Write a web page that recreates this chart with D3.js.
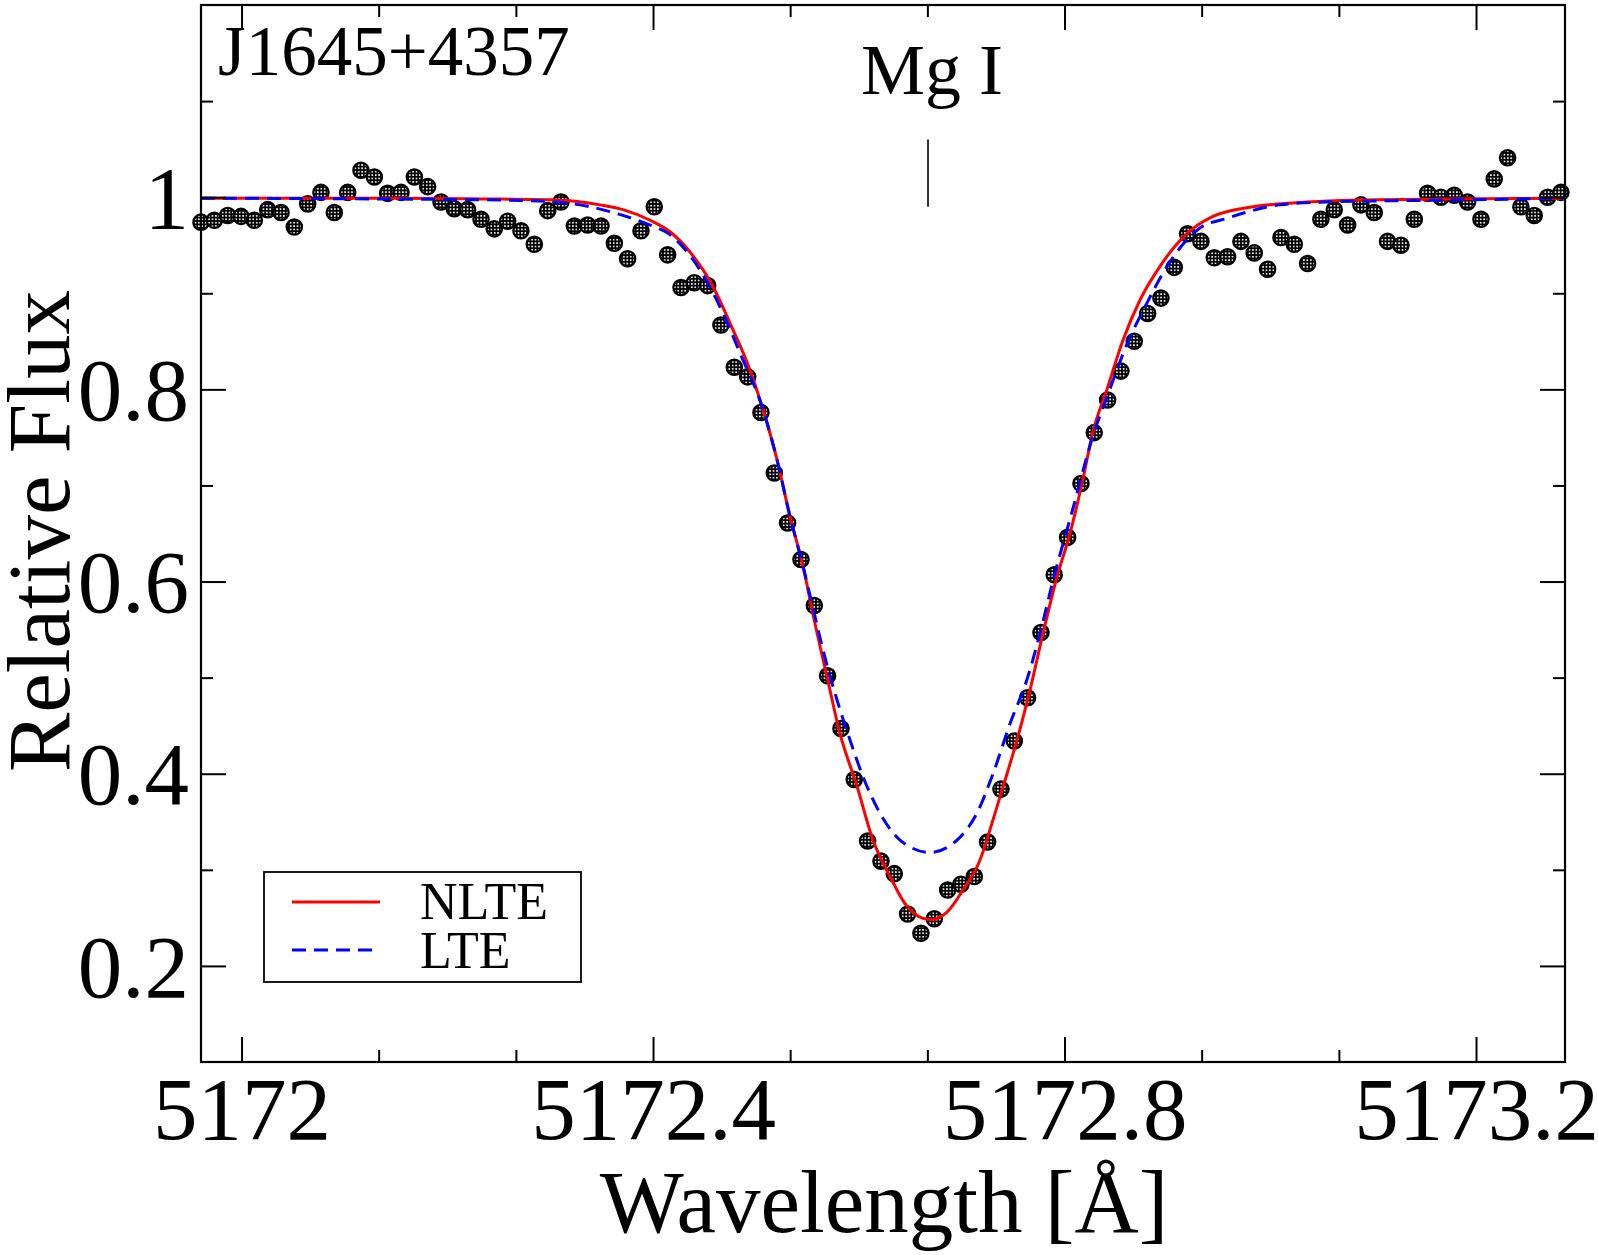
<!DOCTYPE html>
<html>
<head>
<meta charset="utf-8">
<script src="https://cdn.jsdelivr.net/npm/d3@7"></script>
<style>
  html, body { margin: 0; padding: 0; background: #fff; }
  svg { display: block; }
  text { font-family: "Liberation Serif", "Times New Roman", serif; fill: #000; }
</style>
</head>
<body>
<div id="chart"></div>
<script>
// observed spectrum (wavelength in Angstrom, relative flux)
const wavelength = [
  5171.9606, 5171.9736, 5171.9865, 5171.9995, 5172.0124, 5172.0254, 5172.0384, 5172.0513, 5172.0643, 5172.0772,
  5172.0902, 5172.1032, 5172.1161, 5172.1291, 5172.1420, 5172.1550, 5172.1680, 5172.1809, 5172.1939, 5172.2068,
  5172.2198, 5172.2328, 5172.2457, 5172.2587, 5172.2716, 5172.2846, 5172.2976, 5172.3105, 5172.3235, 5172.3364,
  5172.3494, 5172.3624, 5172.3753, 5172.3883, 5172.4012, 5172.4142, 5172.4272, 5172.4401, 5172.4531, 5172.4660,
  5172.4790, 5172.4920, 5172.5049, 5172.5179, 5172.5308, 5172.5438, 5172.5568, 5172.5697, 5172.5827, 5172.5956,
  5172.6086, 5172.6216, 5172.6345, 5172.6475, 5172.6604, 5172.6734, 5172.6864, 5172.6993, 5172.7123, 5172.7252,
  5172.7382, 5172.7512, 5172.7641, 5172.7771, 5172.7900, 5172.8030, 5172.8160, 5172.8289, 5172.8419, 5172.8548,
  5172.8678, 5172.8808, 5172.8937, 5172.9067, 5172.9196, 5172.9326, 5172.9456, 5172.9585, 5172.9715, 5172.9844,
  5172.9974, 5173.0104, 5173.0233, 5173.0363, 5173.0492, 5173.0622, 5173.0752, 5173.0881, 5173.1011, 5173.1140,
  5173.1270, 5173.1400, 5173.1529, 5173.1659, 5173.1788, 5173.1918, 5173.2048, 5173.2177, 5173.2307, 5173.2436,
  5173.2566, 5173.2696, 5173.2825
];
const flux = [
  0.974, 0.976, 0.981, 0.980, 0.976, 0.987, 0.984, 0.969, 0.993, 1.005,
  0.984, 1.005, 1.028, 1.021, 1.004, 1.005, 1.021, 1.011, 0.995, 0.988,
  0.987, 0.977, 0.967, 0.975, 0.965, 0.951, 0.986, 0.995, 0.970, 0.971,
  0.970, 0.952, 0.936, 0.965, 0.990, 0.940, 0.906, 0.911, 0.908, 0.867,
  0.823, 0.813, 0.776, 0.713, 0.661, 0.623, 0.575, 0.502, 0.447, 0.394,
  0.330, 0.309, 0.296, 0.254, 0.234, 0.249, 0.279, 0.285, 0.293, 0.329,
  0.384, 0.434, 0.479, 0.547, 0.607, 0.646, 0.702, 0.755, 0.789, 0.819,
  0.850, 0.879, 0.895, 0.927, 0.962, 0.954, 0.937, 0.938, 0.954, 0.942,
  0.925, 0.958, 0.951, 0.931, 0.977, 0.987, 0.971, 0.992, 0.984, 0.954,
  0.950, 0.977, 1.004, 1.000, 1.002, 0.995, 0.977, 1.019, 1.041, 0.990,
  0.981, 1.000, 1.005
];

// NLTE synthetic profile
const nlteWave = [
  5171.9606, 5172.1540, 5172.2512, 5172.3067, 5172.3485, 5172.3708, 5172.3971, 5172.4165, 5172.4359, 5172.4583,
  5172.4748, 5172.4943, 5172.5069, 5172.5205, 5172.5331, 5172.5458, 5172.5555, 5172.5691, 5172.5817, 5172.5983,
  5172.6138, 5172.6304, 5172.6469, 5172.6692, 5172.6858, 5172.7013, 5172.7178, 5172.7305, 5172.7441, 5172.7538,
  5172.7664, 5172.7791, 5172.7927, 5172.8053, 5172.8170, 5172.8277, 5172.8413, 5172.8568, 5172.8734, 5172.8928,
  5172.9190, 5172.9443, 5172.9832, 5173.0221, 5173.0872, 5173.1747, 5173.2865
];
const nlteFlux = [
  0.999, 0.999, 0.998, 0.997, 0.992, 0.987, 0.976, 0.964, 0.943, 0.907,
  0.869, 0.820, 0.779, 0.727, 0.668, 0.616, 0.566, 0.501, 0.442, 0.387,
  0.331, 0.293, 0.262, 0.248, 0.256, 0.279, 0.310, 0.352, 0.400, 0.435,
  0.487, 0.546, 0.605, 0.650, 0.702, 0.756, 0.800, 0.851, 0.893, 0.928,
  0.962, 0.980, 0.990, 0.994, 0.997, 0.998, 0.999
];

// LTE synthetic profile
const lteWave = [
  5171.9606, 5172.1540, 5172.2512, 5172.3067, 5172.3708, 5172.3971, 5172.4165, 5172.4389, 5172.4651, 5172.4845,
  5172.5069, 5172.5205, 5172.5331, 5172.5458, 5172.5545, 5172.5652, 5172.5788, 5172.5915, 5172.6041, 5172.6206,
  5172.6401, 5172.6692, 5172.6955, 5172.7149, 5172.7305, 5172.7470, 5172.7635, 5172.7762, 5172.7888, 5172.8082,
  5172.8277, 5172.8413, 5172.8607, 5172.8802, 5172.8996, 5172.9317, 5172.9579, 5173.0095, 5173.0551, 5173.0999,
  5173.1747, 5173.2865
];
const lteFlux = [
  0.999, 0.998, 0.997, 0.995, 0.981, 0.971, 0.961, 0.935, 0.886, 0.838,
  0.779, 0.727, 0.668, 0.616, 0.577, 0.529, 0.477, 0.435, 0.397, 0.359,
  0.331, 0.318, 0.331, 0.359, 0.400, 0.452, 0.498, 0.546, 0.601, 0.676,
  0.752, 0.792, 0.847, 0.890, 0.928, 0.968, 0.978, 0.992, 0.995, 0.996,
  0.997, 0.999
];

const xMajorTicks = [5172, 5172.4, 5172.8, 5173.2];
const xTickLabels = ['5172', '5172.4', '5172.8', '5173.2'];
const xMinorTicks = [5172.1333, 5172.2667, 5172.5333, 5172.6667, 5172.9333, 5173.0667];
const yMajorTicks = [0.2, 0.4, 0.6, 0.8, 1.0];
const yTickLabels = ['0.2', '0.4', '0.6', '0.8', '1'];
const yMinorTicks = [0.3, 0.5, 0.7, 0.9, 1.1];

const starName = 'J1645+4357';
const lineName = 'Mg I';
const lineCenter = 5172.6673;
const lineMarkFlux = [0.99, 1.06];
const seriesNames = ['NLTE', 'LTE'];

const W = 1598, H = 1255;
const margin = { top: 5, right: 33, bottom: 193, left: 201 };

const svg = d3.select('#chart')
    .append('svg')
    .attr('width', W)
    .attr('height', H);

const x = d3.scaleLinear()
    .domain([5171.9606, 5173.2865])
    .range([margin.left, W - margin.right]);
const y = d3.scaleLinear()
    .domain([0.1, 1.2])
    .range([H - margin.bottom, margin.top]);

// dotted fill used for the observed points
const defs = svg.append('defs');
const pat = defs.append('pattern')
    .attr('id', 'dots')
    .attr('patternUnits', 'userSpaceOnUse')
    .attr('width', 3.4)
    .attr('height', 3.4);
pat.append('rect').attr('width', 3.4).attr('height', 3.4).attr('fill', '#000');
pat.append('rect').attr('x', 0.9).attr('y', 0.9).attr('width', 1.6).attr('height', 1.6)
    .attr('fill', '#fff');

const obs = wavelength.map((w, i) => ({ w: w, f: flux[i] }));

svg.append('g')
    .selectAll('circle')
    .data(obs)
    .enter()
    .append('circle')
    .attr('cx', d => x(d.w))
    .attr('cy', d => y(d.f))
    .attr('r', 7.7)
    .attr('fill', 'url(#dots)')
    .attr('stroke', '#000')
    .attr('stroke-width', 2.2);

const line = d3.line()
    .x(d => x(d[0]))
    .y(d => y(d[1]))
    .curve(d3.curveMonotoneX);

svg.append('path')
    .datum(nlteWave.map((w, i) => [w, nlteFlux[i]]))
    .attr('d', line)
    .attr('fill', 'none')
    .attr('stroke', '#ff0000')
    .attr('stroke-width', 3);

svg.append('path')
    .datum(lteWave.map((w, i) => [w, lteFlux[i]]))
    .attr('d', line)
    .attr('fill', 'none')
    .attr('stroke', '#0000ff')
    .attr('stroke-width', 3)
    .attr('stroke-dasharray', '14,8');

// axes: ticks point inward on all four sides
const bottom = H - margin.bottom, right = W - margin.right;

function styleAxis(g) {
    g.select('.domain').remove();
    g.selectAll('.tick line').attr('stroke', '#000').attr('stroke-width', 2);
    g.selectAll('.tick text').style('font-size', '89px').attr('fill', '#000');
}

svg.append('g')
    .attr('transform', `translate(0,${bottom})`)
    .call(d3.axisBottom(x).tickValues(xMajorTicks).tickSize(-25).tickPadding(14)
        .tickFormat((d, i) => xTickLabels[i]))
    .call(styleAxis)
    .selectAll('.tick text').attr('dy', '0.71em');
svg.append('g')
    .attr('transform', `translate(0,${bottom})`)
    .call(d3.axisBottom(x).tickValues(xMinorTicks).tickSize(-12).tickFormat(''))
    .call(styleAxis);
svg.append('g')
    .attr('transform', `translate(0,${margin.top})`)
    .call(d3.axisTop(x).tickValues(xMajorTicks).tickSize(-25).tickFormat(''))
    .call(styleAxis);
svg.append('g')
    .attr('transform', `translate(0,${margin.top})`)
    .call(d3.axisTop(x).tickValues(xMinorTicks).tickSize(-12).tickFormat(''))
    .call(styleAxis);

svg.append('g')
    .attr('transform', `translate(${margin.left},0)`)
    .call(d3.axisLeft(y).tickValues(yMajorTicks).tickSize(-25).tickPadding(12)
        .tickFormat((d, i) => yTickLabels[i]))
    .call(styleAxis)
    .selectAll('.tick text').attr('dy', '0.34em');
svg.append('g')
    .attr('transform', `translate(${margin.left},0)`)
    .call(d3.axisLeft(y).tickValues(yMinorTicks).tickSize(-12).tickFormat(''))
    .call(styleAxis);
svg.append('g')
    .attr('transform', `translate(${right},0)`)
    .call(d3.axisRight(y).tickValues(yMajorTicks).tickSize(-25).tickFormat(''))
    .call(styleAxis);
svg.append('g')
    .attr('transform', `translate(${right},0)`)
    .call(d3.axisRight(y).tickValues(yMinorTicks).tickSize(-12).tickFormat(''))
    .call(styleAxis);

// frame
svg.append('rect')
    .attr('x', margin.left)
    .attr('y', margin.top)
    .attr('width', right - margin.left)
    .attr('height', bottom - margin.top)
    .attr('fill', 'none')
    .attr('stroke', '#000')
    .attr('stroke-width', 2.2);

// axis titles
svg.append('text')
    .attr('x', 884)
    .attr('y', 1232)
    .attr('text-anchor', 'middle')
    .style('font-size', '89px')
    .text('Wavelength [Å]');

svg.append('text')
    .attr('transform', 'translate(69,531) rotate(-90)')
    .attr('text-anchor', 'middle')
    .style('font-size', '89px')
    .text('Relative Flux');

// labels inside the plot
svg.append('text')
    .attr('x', 218)
    .attr('y', 75)
    .style('font-size', '71px')
    .text(starName);

svg.append('text')
    .attr('x', x(lineCenter) + 4)
    .attr('y', 94)
    .attr('text-anchor', 'middle')
    .style('font-size', '72px')
    .text(lineName);

svg.append('line')
    .attr('x1', x(lineCenter))
    .attr('x2', x(lineCenter))
    .attr('y1', y(lineMarkFlux[0]))
    .attr('y2', y(lineMarkFlux[1]))
    .attr('stroke', '#000')
    .attr('stroke-width', 1.6);

// legend
const legend = svg.append('g').attr('transform', 'translate(264,872)');
legend.append('rect')
    .attr('width', 317)
    .attr('height', 110)
    .attr('fill', '#fff')
    .attr('stroke', '#000')
    .attr('stroke-width', 1.8);
legend.append('line')
    .attr('x1', 28).attr('x2', 116).attr('y1', 30).attr('y2', 30)
    .attr('stroke', '#ff0000').attr('stroke-width', 3);
legend.append('line')
    .attr('x1', 28).attr('x2', 111).attr('y1', 78).attr('y2', 78)
    .attr('stroke', '#0000ff').attr('stroke-width', 3)
    .attr('stroke-dasharray', '14,8');
legend.selectAll('text.lbl')
    .data(seriesNames)
    .enter()
    .append('text')
    .attr('class', 'lbl')
    .attr('x', 156)
    .attr('y', (d, i) => 47 + i * 49)
    .style('font-size', '52px')
    .text(d => d);
</script>
</body>
</html>
